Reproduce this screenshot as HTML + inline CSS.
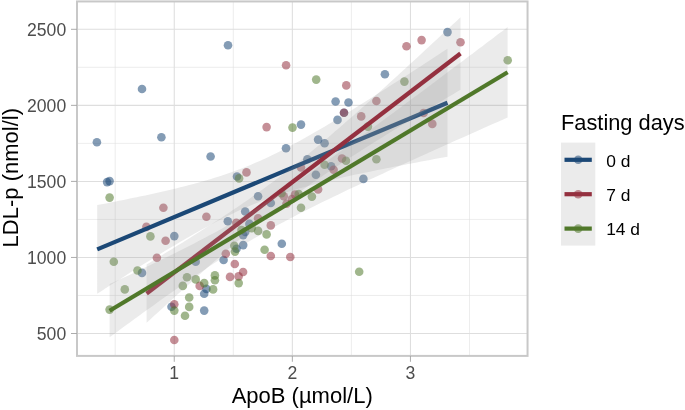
<!DOCTYPE html>
<html><head><meta charset="utf-8"><title>chart</title>
<style>html,body{margin:0;padding:0;background:#fff;}body{width:685px;height:410px;position:relative;overflow:hidden;font-family:"Liberation Sans",sans-serif;}</style>
</head><body>
<svg width="685" height="410" viewBox="0 0 685 410" style="position:fixed;left:0;top:0;will-change:transform;font-family:'Liberation Sans',sans-serif">
<rect x="0" y="0" width="685" height="410" fill="#fff"/>
<clipPath id="cp"><rect x="77.0" y="1.45" width="450.54999999999995" height="354.45"/></clipPath>
<g clip-path="url(#cp)">
<line x1="115.20" x2="115.20" y1="1.45" y2="355.9" stroke="#dedede" stroke-width="0.55"/>
<line x1="233.30" x2="233.30" y1="1.45" y2="355.9" stroke="#dedede" stroke-width="0.55"/>
<line x1="351.40" x2="351.40" y1="1.45" y2="355.9" stroke="#dedede" stroke-width="0.55"/>
<line x1="469.50" x2="469.50" y1="1.45" y2="355.9" stroke="#dedede" stroke-width="0.55"/>
<line y1="295.48" y2="295.48" x1="77.0" x2="527.55" stroke="#dedede" stroke-width="0.55"/>
<line y1="219.43" y2="219.43" x1="77.0" x2="527.55" stroke="#dedede" stroke-width="0.55"/>
<line y1="143.37" y2="143.37" x1="77.0" x2="527.55" stroke="#dedede" stroke-width="0.55"/>
<line y1="67.32" y2="67.32" x1="77.0" x2="527.55" stroke="#dedede" stroke-width="0.55"/>
<line x1="174.25" x2="174.25" y1="1.45" y2="355.9" stroke="#dedede" stroke-width="1.05"/>
<line x1="292.35" x2="292.35" y1="1.45" y2="355.9" stroke="#dedede" stroke-width="1.05"/>
<line x1="410.45" x2="410.45" y1="1.45" y2="355.9" stroke="#dedede" stroke-width="1.05"/>
<line y1="333.50" y2="333.50" x1="77.0" x2="527.55" stroke="#dedede" stroke-width="1.05"/>
<line y1="257.45" y2="257.45" x1="77.0" x2="527.55" stroke="#dedede" stroke-width="1.05"/>
<line y1="181.40" y2="181.40" x1="77.0" x2="527.55" stroke="#dedede" stroke-width="1.05"/>
<line y1="105.35" y2="105.35" x1="77.0" x2="527.55" stroke="#dedede" stroke-width="1.05"/>
<line y1="29.30" y2="29.30" x1="77.0" x2="527.55" stroke="#dedede" stroke-width="1.05"/>
<g fill="#1b4876" fill-opacity="0.54">
<circle cx="142" cy="89" r="4.3"/>
<circle cx="228" cy="45.2" r="4.3"/>
<circle cx="384.9" cy="74.2" r="4.3"/>
<circle cx="335.6" cy="101.5" r="4.3"/>
<circle cx="348.5" cy="102.5" r="4.3"/>
<circle cx="447.5" cy="32.1" r="4.3"/>
<circle cx="96.9" cy="142.3" r="4.3"/>
<circle cx="161.4" cy="137.3" r="4.3"/>
<circle cx="210.6" cy="156.5" r="4.3"/>
<circle cx="107.1" cy="182.1" r="4.3"/>
<circle cx="109.6" cy="181.1" r="4.3"/>
<circle cx="237.0" cy="176.5" r="4.3"/>
<circle cx="301" cy="124.6" r="4.3"/>
<circle cx="344" cy="112.7" r="4.3"/>
<circle cx="337.5" cy="119.9" r="4.3"/>
<circle cx="318.1" cy="139.6" r="4.3"/>
<circle cx="324.6" cy="143.3" r="4.3"/>
<circle cx="286" cy="148.3" r="4.3"/>
<circle cx="307.4" cy="159.2" r="4.3"/>
<circle cx="331.1" cy="166.2" r="4.3"/>
<circle cx="315.9" cy="174.7" r="4.3"/>
<circle cx="363.4" cy="178.9" r="4.3"/>
<circle cx="258.1" cy="196.3" r="4.3"/>
<circle cx="270.8" cy="203" r="4.3"/>
<circle cx="174.3" cy="236.1" r="4.3"/>
<circle cx="227.8" cy="221.2" r="4.3"/>
<circle cx="245.2" cy="211.5" r="4.3"/>
<circle cx="142" cy="272.9" r="4.3"/>
<circle cx="195.7" cy="261.7" r="4.3"/>
<circle cx="206.4" cy="288.9" r="4.3"/>
<circle cx="204.2" cy="293.8" r="4.3"/>
<circle cx="223.6" cy="260" r="4.3"/>
<circle cx="236.5" cy="248.8" r="4.3"/>
<circle cx="243.2" cy="235.1" r="4.3"/>
<circle cx="243.2" cy="245.1" r="4.3"/>
<circle cx="249.4" cy="223.9" r="4.3"/>
<circle cx="245.2" cy="231.9" r="4.3"/>
<circle cx="281.8" cy="243.8" r="4.3"/>
<circle cx="171.5" cy="306.7" r="4.3"/>
<circle cx="204.2" cy="310.6" r="4.3"/>
</g>
<g fill="#94303f" fill-opacity="0.54">
<circle cx="286.1" cy="65.2" r="4.3"/>
<circle cx="346.3" cy="85.4" r="4.3"/>
<circle cx="406.5" cy="46.3" r="4.3"/>
<circle cx="376.4" cy="101" r="4.3"/>
<circle cx="421.6" cy="40.1" r="4.3"/>
<circle cx="460.5" cy="42.3" r="4.3"/>
<circle cx="246.5" cy="172.4" r="4.3"/>
<circle cx="266.6" cy="127.1" r="4.3"/>
<circle cx="344" cy="112.7" r="4.3"/>
<circle cx="361.2" cy="116.4" r="4.3"/>
<circle cx="301" cy="167.5" r="4.3"/>
<circle cx="333.6" cy="169.7" r="4.3"/>
<circle cx="342" cy="158.5" r="4.3"/>
<circle cx="283.8" cy="196.3" r="4.3"/>
<circle cx="295" cy="194.6" r="4.3"/>
<circle cx="292" cy="199" r="4.3"/>
<circle cx="318.1" cy="189.4" r="4.3"/>
<circle cx="286.5" cy="203.8" r="4.3"/>
<circle cx="423.6" cy="113" r="4.3"/>
<circle cx="432.3" cy="123.9" r="4.3"/>
<circle cx="163.4" cy="207.7" r="4.3"/>
<circle cx="206.4" cy="216.7" r="4.3"/>
<circle cx="146.4" cy="226.9" r="4.3"/>
<circle cx="165.6" cy="240.8" r="4.3"/>
<circle cx="236.3" cy="222.7" r="4.3"/>
<circle cx="156.9" cy="257.8" r="4.3"/>
<circle cx="199.7" cy="285.9" r="4.3"/>
<circle cx="174.3" cy="304.2" r="4.3"/>
<circle cx="225.8" cy="253.8" r="4.3"/>
<circle cx="234.8" cy="264" r="4.3"/>
<circle cx="230" cy="276.9" r="4.3"/>
<circle cx="238.6" cy="276.4" r="4.3"/>
<circle cx="243.1" cy="272" r="4.3"/>
<circle cx="258.1" cy="218.2" r="4.3"/>
<circle cx="270.8" cy="225.4" r="4.3"/>
<circle cx="270.8" cy="256" r="4.3"/>
<circle cx="290.3" cy="257" r="4.3"/>
<circle cx="174.3" cy="340" r="4.3"/>
</g>
<g fill="#50782a" fill-opacity="0.54">
<circle cx="316.2" cy="79.6" r="4.3"/>
<circle cx="404.4" cy="81.6" r="4.3"/>
<circle cx="507.7" cy="60.3" r="4.3"/>
<circle cx="109.6" cy="197.6" r="4.3"/>
<circle cx="239.1" cy="178.4" r="4.3"/>
<circle cx="292.5" cy="127.6" r="4.3"/>
<circle cx="367.9" cy="126.6" r="4.3"/>
<circle cx="324.6" cy="164.7" r="4.3"/>
<circle cx="346" cy="160.7" r="4.3"/>
<circle cx="376.4" cy="159.2" r="4.3"/>
<circle cx="281.5" cy="193.3" r="4.3"/>
<circle cx="298.7" cy="194.1" r="4.3"/>
<circle cx="311.9" cy="196.6" r="4.3"/>
<circle cx="150.4" cy="236.4" r="4.3"/>
<circle cx="113.8" cy="261.7" r="4.3"/>
<circle cx="137.5" cy="270.5" r="4.3"/>
<circle cx="124.8" cy="289.4" r="4.3"/>
<circle cx="187" cy="277.2" r="4.3"/>
<circle cx="195.7" cy="279.4" r="4.3"/>
<circle cx="182.8" cy="285.9" r="4.3"/>
<circle cx="204.2" cy="283.1" r="4.3"/>
<circle cx="213.1" cy="289.4" r="4.3"/>
<circle cx="214.9" cy="275.4" r="4.3"/>
<circle cx="214.9" cy="280.2" r="4.3"/>
<circle cx="189.2" cy="297.5" r="4.3"/>
<circle cx="189.2" cy="306.9" r="4.3"/>
<circle cx="234.3" cy="245.8" r="4.3"/>
<circle cx="235" cy="251.6" r="4.3"/>
<circle cx="238.7" cy="283.1" r="4.3"/>
<circle cx="241.5" cy="230" r="4.3"/>
<circle cx="301" cy="207.7" r="4.3"/>
<circle cx="251.7" cy="228.1" r="4.3"/>
<circle cx="258.1" cy="230.9" r="4.3"/>
<circle cx="266.6" cy="234.4" r="4.3"/>
<circle cx="264.6" cy="249.8" r="4.3"/>
<circle cx="359.2" cy="271.7" r="4.3"/>
<circle cx="109.6" cy="309.6" r="4.3"/>
<circle cx="174.3" cy="310.6" r="4.3"/>
<circle cx="185" cy="315.8" r="4.3"/>
</g>
<path d="M97.2,205.1 L101.6,204.2 L106.0,203.4 L110.3,202.5 L114.7,201.7 L119.1,200.8 L123.5,199.9 L127.9,199.0 L132.2,198.1 L136.6,197.2 L141.0,196.3 L145.4,195.4 L149.7,194.4 L154.1,193.5 L158.5,192.5 L162.9,191.5 L167.3,190.5 L171.6,189.4 L176.0,188.4 L180.4,187.3 L184.8,186.2 L189.2,185.1 L193.5,183.9 L197.9,182.7 L202.3,181.5 L206.7,180.3 L211.0,178.9 L215.4,177.6 L219.8,176.2 L224.2,174.8 L228.6,173.3 L232.9,171.7 L237.3,170.1 L241.7,168.4 L246.1,166.7 L250.5,164.9 L254.8,163.1 L259.2,161.2 L263.6,159.2 L268.0,157.2 L272.4,155.1 L276.7,152.9 L281.1,150.7 L285.5,148.5 L289.9,146.2 L294.2,143.8 L298.6,141.5 L303.0,139.0 L307.4,136.6 L311.8,134.1 L316.1,131.6 L320.5,129.0 L324.9,126.4 L329.3,123.8 L333.7,121.2 L338.0,118.5 L342.4,115.9 L346.8,113.2 L351.2,110.5 L355.5,107.8 L359.9,105.1 L364.3,102.3 L368.7,99.6 L373.1,96.8 L377.4,94.0 L381.8,91.2 L386.2,88.4 L390.6,85.6 L395.0,82.8 L399.3,80.0 L403.7,77.2 L408.1,74.4 L412.5,71.5 L416.8,68.7 L421.2,65.9 L425.6,63.0 L430.0,60.2 L434.4,57.3 L438.7,54.4 L443.1,51.6 L447.5,48.7 L447.5,156.7 L443.1,157.5 L438.7,158.3 L434.4,159.1 L430.0,159.9 L425.6,160.7 L421.2,161.6 L416.8,162.4 L412.5,163.2 L408.1,164.0 L403.7,164.9 L399.3,165.7 L395.0,166.6 L390.6,167.4 L386.2,168.3 L381.8,169.2 L377.4,170.1 L373.1,171.0 L368.7,171.9 L364.3,172.8 L359.9,173.7 L355.5,174.6 L351.2,175.6 L346.8,176.6 L342.4,177.5 L338.0,178.5 L333.7,179.6 L329.3,180.6 L324.9,181.7 L320.5,182.8 L316.1,183.9 L311.8,185.0 L307.4,186.2 L303.0,187.4 L298.6,188.6 L294.2,189.9 L289.9,191.2 L285.5,192.6 L281.1,194.0 L276.7,195.5 L272.4,197.0 L268.0,198.6 L263.6,200.2 L259.2,201.9 L254.8,203.7 L250.5,205.5 L246.1,207.4 L241.7,209.3 L237.3,211.3 L232.9,213.4 L228.6,215.5 L224.2,217.7 L219.8,219.9 L215.4,222.2 L211.0,224.5 L206.7,226.9 L202.3,229.3 L197.9,231.7 L193.5,234.2 L189.2,236.7 L184.8,239.2 L180.4,241.8 L176.0,244.4 L171.6,247.0 L167.3,249.6 L162.9,252.3 L158.5,255.0 L154.1,257.7 L149.7,260.4 L145.4,263.1 L141.0,265.8 L136.6,268.6 L132.2,271.3 L127.9,274.1 L123.5,276.9 L119.1,279.7 L114.7,282.5 L110.3,285.3 L106.0,288.1 L101.6,290.9 L97.2,293.7Z" fill="#999999" fill-opacity="0.2"/>
<line x1="97.2" y1="249.4" x2="447.5" y2="102.7" stroke="#1b4876" stroke-width="4.2"/>
<path d="M146.6,264.6 L150.5,262.2 L154.4,259.8 L158.4,257.4 L162.3,255.0 L166.2,252.6 L170.1,250.2 L174.1,247.8 L178.0,245.3 L181.9,242.9 L185.8,240.4 L189.8,238.0 L193.7,235.5 L197.6,233.0 L201.5,230.5 L205.5,228.0 L209.4,225.5 L213.3,223.0 L217.2,220.5 L221.2,217.9 L225.1,215.3 L229.0,212.7 L232.9,210.1 L236.8,207.4 L240.8,204.8 L244.7,202.1 L248.6,199.4 L252.5,196.6 L256.5,193.9 L260.4,191.0 L264.3,188.2 L268.2,185.3 L272.2,182.4 L276.1,179.5 L280.0,176.5 L283.9,173.5 L287.9,170.5 L291.8,167.4 L295.7,164.3 L299.6,161.2 L303.5,158.0 L307.5,154.8 L311.4,151.6 L315.3,148.3 L319.2,145.0 L323.2,141.7 L327.1,138.4 L331.0,135.0 L334.9,131.6 L338.9,128.2 L342.8,124.8 L346.7,121.3 L350.6,117.9 L354.6,114.4 L358.5,110.9 L362.4,107.4 L366.3,103.9 L370.3,100.4 L374.2,96.8 L378.1,93.3 L382.0,89.7 L385.9,86.2 L389.9,82.6 L393.8,79.0 L397.7,75.4 L401.6,71.8 L405.6,68.2 L409.5,64.6 L413.4,61.0 L417.3,57.4 L421.3,53.7 L425.2,50.1 L429.1,46.5 L433.0,42.8 L437.0,39.2 L440.9,35.6 L444.8,31.9 L448.7,28.3 L452.7,24.6 L456.6,21.0 L460.5,17.3 L460.5,89.7 L456.6,92.1 L452.7,94.4 L448.7,96.8 L444.8,99.1 L440.9,101.5 L437.0,103.8 L433.0,106.2 L429.1,108.6 L425.2,110.9 L421.3,113.3 L417.3,115.7 L413.4,118.1 L409.5,120.5 L405.6,122.9 L401.6,125.3 L397.7,127.7 L393.8,130.1 L389.9,132.5 L385.9,134.9 L382.0,137.4 L378.1,139.8 L374.2,142.3 L370.3,144.8 L366.3,147.2 L362.4,149.7 L358.5,152.2 L354.6,154.7 L350.6,157.3 L346.7,159.8 L342.8,162.4 L338.9,165.0 L334.9,167.5 L331.0,170.2 L327.1,172.8 L323.2,175.5 L319.2,178.2 L315.3,180.9 L311.4,183.6 L307.5,186.4 L303.5,189.2 L299.6,192.0 L295.7,194.9 L291.8,197.8 L287.9,200.7 L283.9,203.7 L280.0,206.7 L276.1,209.7 L272.2,212.8 L268.2,215.9 L264.3,219.0 L260.4,222.2 L256.5,225.4 L252.5,228.6 L248.6,231.9 L244.7,235.2 L240.8,238.5 L236.8,241.8 L232.9,245.2 L229.0,248.6 L225.1,252.0 L221.2,255.4 L217.2,258.9 L213.3,262.3 L209.4,265.8 L205.5,269.3 L201.5,272.8 L197.6,276.3 L193.7,279.8 L189.8,283.4 L185.8,286.9 L181.9,290.5 L178.0,294.0 L174.1,297.6 L170.1,301.2 L166.2,304.8 L162.3,308.4 L158.4,312.0 L154.4,315.6 L150.5,319.2 L146.6,322.8Z" fill="#999999" fill-opacity="0.2"/>
<line x1="146.6" y1="293.7" x2="460.5" y2="53.5" stroke="#94303f" stroke-width="4.2"/>
<path d="M109.6,284.1 L114.6,281.8 L119.5,279.5 L124.5,277.2 L129.5,274.9 L134.5,272.5 L139.4,270.2 L144.4,267.8 L149.4,265.5 L154.4,263.1 L159.3,260.7 L164.3,258.3 L169.3,255.9 L174.3,253.4 L179.2,250.9 L184.2,248.5 L189.2,245.9 L194.2,243.4 L199.1,240.8 L204.1,238.2 L209.1,235.6 L214.1,232.9 L219.1,230.2 L224.0,227.4 L229.0,224.6 L234.0,221.8 L238.9,218.9 L243.9,216.0 L248.9,213.0 L253.9,210.0 L258.9,206.9 L263.8,203.8 L268.8,200.6 L273.8,197.4 L278.8,194.2 L283.7,190.9 L288.7,187.6 L293.7,184.2 L298.6,180.8 L303.6,177.4 L308.6,174.0 L313.6,170.5 L318.5,167.0 L323.5,163.5 L328.5,160.0 L333.5,156.4 L338.4,152.9 L343.4,149.3 L348.4,145.7 L353.4,142.1 L358.4,138.5 L363.3,134.8 L368.3,131.2 L373.3,127.5 L378.2,123.9 L383.2,120.2 L388.2,116.5 L393.2,112.9 L398.1,109.2 L403.1,105.5 L408.1,101.8 L413.1,98.1 L418.0,94.4 L423.0,90.7 L428.0,87.0 L433.0,83.2 L438.0,79.5 L442.9,75.8 L447.9,72.1 L452.9,68.3 L457.9,64.6 L462.8,60.9 L467.8,57.1 L472.8,53.4 L477.8,49.6 L482.7,45.9 L487.7,42.1 L492.7,38.4 L497.6,34.6 L502.6,30.9 L507.6,27.1 L507.6,117.5 L502.6,119.7 L497.6,121.9 L492.7,124.1 L487.7,126.3 L482.7,128.5 L477.8,130.7 L472.8,132.9 L467.8,135.2 L462.8,137.4 L457.9,139.6 L452.9,141.8 L447.9,144.1 L442.9,146.3 L438.0,148.5 L433.0,150.8 L428.0,153.0 L423.0,155.3 L418.0,157.5 L413.1,159.8 L408.1,162.0 L403.1,164.3 L398.1,166.5 L393.2,168.8 L388.2,171.1 L383.2,173.4 L378.2,175.7 L373.3,178.0 L368.3,180.3 L363.3,182.6 L358.4,184.9 L353.4,187.3 L348.4,189.6 L343.4,192.0 L338.4,194.4 L333.5,196.8 L328.5,199.2 L323.5,201.6 L318.5,204.1 L313.6,206.5 L308.6,209.0 L303.6,211.6 L298.6,214.1 L293.7,216.7 L288.7,219.3 L283.7,221.9 L278.8,224.6 L273.8,227.3 L268.8,230.1 L263.8,232.9 L258.9,235.7 L253.9,238.6 L248.9,241.5 L243.9,244.5 L238.9,247.5 L234.0,250.6 L229.0,253.7 L224.0,256.9 L219.1,260.1 L214.1,263.3 L209.1,266.6 L204.1,270.0 L199.1,273.3 L194.2,276.7 L189.2,280.1 L184.2,283.5 L179.2,287.0 L174.3,290.5 L169.3,294.0 L164.3,297.6 L159.3,301.1 L154.4,304.7 L149.4,308.2 L144.4,311.8 L139.4,315.5 L134.5,319.1 L129.5,322.7 L124.5,326.3 L119.5,330.0 L114.6,333.7 L109.6,337.3Z" fill="#999999" fill-opacity="0.2"/>
<line x1="109.6" y1="310.7" x2="507.6" y2="72.3" stroke="#50782a" stroke-width="4.2"/>
</g>
<rect x="77.0" y="1.45" width="450.54999999999995" height="354.45" fill="none" stroke="#c8c8c8" stroke-width="2.0"/>
<line x1="174.25" x2="174.25" y1="355.9" y2="361.79999999999995" stroke="#a3a3a3" stroke-width="0.9"/>
<text x="174.25" y="379.3" font-size="17.6" fill="#4d4d4d" text-anchor="middle">1</text>
<line x1="292.35" x2="292.35" y1="355.9" y2="361.79999999999995" stroke="#a3a3a3" stroke-width="0.9"/>
<text x="292.35" y="379.3" font-size="17.6" fill="#4d4d4d" text-anchor="middle">2</text>
<line x1="410.45" x2="410.45" y1="355.9" y2="361.79999999999995" stroke="#a3a3a3" stroke-width="0.9"/>
<text x="410.45" y="379.3" font-size="17.6" fill="#4d4d4d" text-anchor="middle">3</text>
<line y1="333.50" y2="333.50" x1="71.0" x2="77.0" stroke="#a3a3a3" stroke-width="0.9"/>
<text x="66.2" y="340.00" font-size="17.6" fill="#4d4d4d" text-anchor="end">500</text>
<line y1="257.45" y2="257.45" x1="71.0" x2="77.0" stroke="#a3a3a3" stroke-width="0.9"/>
<text x="66.2" y="263.95" font-size="17.6" fill="#4d4d4d" text-anchor="end">1000</text>
<line y1="181.40" y2="181.40" x1="71.0" x2="77.0" stroke="#a3a3a3" stroke-width="0.9"/>
<text x="66.2" y="187.90" font-size="17.6" fill="#4d4d4d" text-anchor="end">1500</text>
<line y1="105.35" y2="105.35" x1="71.0" x2="77.0" stroke="#a3a3a3" stroke-width="0.9"/>
<text x="66.2" y="111.85" font-size="17.6" fill="#4d4d4d" text-anchor="end">2000</text>
<line y1="29.30" y2="29.30" x1="71.0" x2="77.0" stroke="#a3a3a3" stroke-width="0.9"/>
<text x="66.2" y="35.80" font-size="17.6" fill="#4d4d4d" text-anchor="end">2500</text>
<text x="302.2" y="403.2" font-size="22" fill="#000" text-anchor="middle">ApoB (&#181;mol/L)</text>
<text transform="translate(18.0,177.7) rotate(-90)" font-size="22" fill="#000" text-anchor="middle">LDL-p (nmol/l)</text>
<text x="561" y="130.0" font-size="21.8" fill="#000">Fasting days</text>
<rect x="561" y="142.6" width="34.3" height="103.0" fill="#ebebeb"/>
<circle cx="578.2" cy="159.8" r="4.3" fill="#1b4876" fill-opacity="0.54"/>
<line x1="564.5" x2="591.8" y1="159.8" y2="159.8" stroke="#1b4876" stroke-width="4.2"/>
<text x="606.2" y="166.6" font-size="17.4" fill="#000">0 d</text>
<circle cx="578.2" cy="194.2" r="4.3" fill="#94303f" fill-opacity="0.54"/>
<line x1="564.5" x2="591.8" y1="194.2" y2="194.2" stroke="#94303f" stroke-width="4.2"/>
<text x="606.2" y="201.0" font-size="17.4" fill="#000">7 d</text>
<circle cx="578.2" cy="228.6" r="4.3" fill="#50782a" fill-opacity="0.54"/>
<line x1="564.5" x2="591.8" y1="228.6" y2="228.6" stroke="#50782a" stroke-width="4.2"/>
<text x="606.2" y="235.4" font-size="17.4" fill="#000">14 d</text>
</svg>
</body></html>
